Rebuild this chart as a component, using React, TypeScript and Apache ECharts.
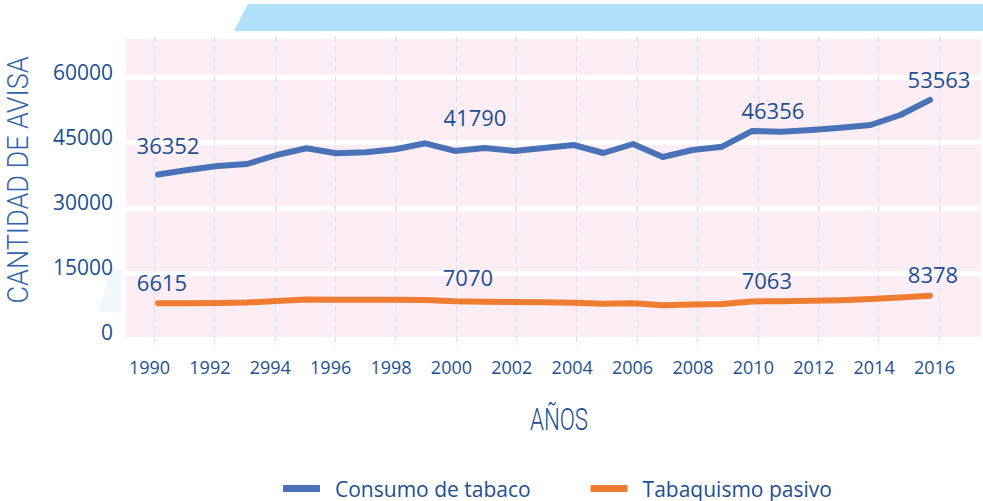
import React, { useEffect, useRef } from "react";
import * as echarts from "echarts";

const years = [
  "1990", "1991", "1992", "1993", "1994", "1995", "1996", "1997", "1998", "1999",
  "2000", "2001", "2002", "2003", "2004", "2005", "2006", "2007", "2008", "2009",
  "2010", "2011", "2012", "2013", "2014", "2015", "2016",
];

const tickLabels = [
  "1990", "1992", "2994", "1996", "1998", "2000", "2002",
  "2004", "2006", "2008", "2010", "2012", "2014", "2016",
];

const consumo = [
  36352, 37385, 38308, 38769, 40846, 42392, 41238, 41469, 42161, 43546,
  41790, 42462, 41769, 42462, 43154, 41308, 43385, 40385, 42000, 42762,
  46356, 46223, 46615, 47146, 47769, 50077, 53563,
];

const pasivo = [
  6615, 6650, 6700, 6800, 7150, 7500, 7450, 7450, 7450, 7400,
  7070, 7000, 6900, 6850, 6750, 6500, 6620, 6200, 6350, 6450,
  7063, 7100, 7200, 7350, 7600, 7950, 8378,
];

const seriesNames = ["Consumo de tabaco", "Tabaquismo pasivo"];
const labelled = [0, 10, 20, 26];
const yTitle = "CANTIDAD DE AVISA";
const xTitle = "AÑOS";

const yTicks = { min: 0, max: 60000, step: 15000 };

const TEXT = "#1d4f91";
const BLUE = "#4a72b8";
const ORANGE = "#ee7d31";
const NUM_FONT = "'Open Sans', 'Noto Sans', sans-serif";
const THIN = "Roboto, 'Open Sans', sans-serif";

const blueOffsets: Record<number, number[]> = {
  0: [10, -29],
  10: [20, -34],
  20: [21, -21],
  26: [9, -21],
};
const orangeOffsets: Record<number, number[]> = {
  0: [4, -21],
  10: [13, -24],
  20: [15, -21],
  26: [3, -22],
};

function buildData(values: number[], offsets: Record<number, number[]>) {
  return values.map((v, i) =>
    labelled.includes(i)
      ? {
          value: v,
          label: {
            show: true,
            position: "inside",
            offset: offsets[i],
            fontSize: 22,
            color: TEXT,
            fontFamily: NUM_FONT,
          },
        }
      : v
  );
}

export default function App() {
  const ref = useRef<HTMLDivElement>(null);

  useEffect(() => {
    document.body.style.margin = "0";
    document.body.style.overflow = "hidden";
    if (!ref.current) return;
    const chart = echarts.init(ref.current, undefined, { renderer: "svg" });
    chart.setOption({
      animation: false,
      backgroundColor: "#ffffff",
      graphic: [
        {
          type: "polygon",
          shape: { points: [[234, 31], [248, 4], [983, 4], [983, 31]] },
          style: { fill: "#b0e1f8" },
          silent: true,
        },
        {
          type: "polygon",
          shape: { points: [[112, 268], [121, 268], [121, 312], [98, 312]] },
          style: { fill: "#f1f8fd" },
          silent: true,
        },
        {
          type: "text",
          x: 18,
          y: 180,
          rotation: Math.PI / 2,
          scaleX: 0.9,
          style: {
            text: yTitle,
            fontSize: 30,
            fontWeight: 300,
            fontFamily: THIN,
            fill: "#2f62aa",
            align: "center",
            verticalAlign: "middle",
          },
          silent: true,
        },
        {
          type: "text",
          x: 559,
          y: 420,
          scaleX: 0.72,
          style: {
            text: xTitle,
            fontSize: 31,
            fontWeight: 300,
            fontFamily: THIN,
            fill: TEXT,
            align: "center",
            verticalAlign: "middle",
          },
          silent: true,
        },
      ],
      grid: [
        {
          left: 126,
          top: 36,
          width: 855,
          height: 303,
          show: true,
          backgroundColor: "#fdedf4",
          borderWidth: 0,
        },
        { left: 154, top: 36, width: 785, height: 311 },
        { left: 158, top: 72, width: 772, height: 260 },
      ],
      xAxis: [
        { gridIndex: 0, type: "value", show: false, min: 0, max: 1 },
        {
          gridIndex: 1,
          type: "category",
          data: tickLabels,
          boundaryGap: false,
          axisLine: { show: false },
          axisTick: { show: false },
          axisLabel: {
            fontSize: 18,
            color: TEXT,
            fontFamily: NUM_FONT,
            margin: 11,
            padding: [0, 9, 0, 0],
          },
          splitLine: {
            show: true,
            lineStyle: { color: "#d3e2f1", width: 1, type: [6, 4] },
          },
        },
        {
          gridIndex: 2,
          type: "category",
          data: years,
          boundaryGap: false,
          show: false,
        },
      ],
      yAxis: [
        {
          gridIndex: 0,
          type: "value",
          min: 0,
          max: 69389,
          interval: 15000,
          axisLine: { show: false },
          axisTick: { show: false },
          axisLabel: { show: false },
          splitLine: { show: true, lineStyle: { color: "#ffffff", width: 5 } },
        },
        { gridIndex: 1, type: "value", show: false, min: 0, max: 1 },
        {
          gridIndex: 2,
          type: "value",
          min: yTicks.min,
          max: yTicks.max,
          interval: yTicks.step,
          axisLine: { show: false },
          axisTick: { show: false },
          splitLine: { show: false },
          axisLabel: {
            fontSize: 21,
            color: TEXT,
            fontFamily: NUM_FONT,
            margin: 45,
            formatter: (v: number) => String(v),
          },
        },
      ],
      legend: {
        data: [
          { name: seriesNames[0], itemStyle: { color: BLUE, opacity: 1 } },
          { name: seriesNames[1], itemStyle: { color: ORANGE, opacity: 1 } },
        ],
        left: 283,
        top: 478,
        icon: "rect",
        itemWidth: 37,
        itemHeight: 7,
        itemGap: 60,
        padding: 0,
        textStyle: {
          fontSize: 21,
          lineHeight: 21,
          color: TEXT,
          fontFamily: NUM_FONT,
          padding: [0, 0, 0, 10],
        },
      },
      series: [
        {
          name: seriesNames[0],
          type: "line",
          xAxisIndex: 2,
          yAxisIndex: 2,
          data: buildData(consumo, blueOffsets),
          symbol: "circle",
          symbolSize: 0,
          showSymbol: true,
          itemStyle: { color: BLUE },
          lineStyle: { color: BLUE, width: 6, cap: "round", join: "round" },
          label: { show: false },
          z: 5,
        },
        {
          name: seriesNames[1],
          type: "line",
          xAxisIndex: 2,
          yAxisIndex: 2,
          data: buildData(pasivo, orangeOffsets),
          symbol: "circle",
          symbolSize: 0,
          showSymbol: true,
          itemStyle: { color: ORANGE },
          lineStyle: { color: ORANGE, width: 6, cap: "round", join: "round" },
          label: { show: false },
          z: 5,
        },
      ],
    });
    return () => chart.dispose();
  }, []);

  return <div ref={ref} style={{ width: 983, height: 501 }} />;
}
